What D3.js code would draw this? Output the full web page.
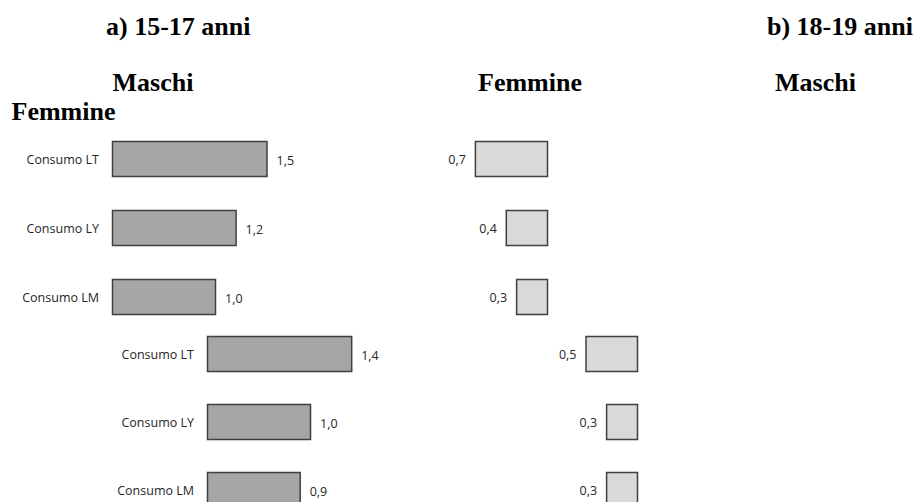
<!DOCTYPE html>
<html>
<head>
<meta charset="utf-8">
<script src="https://cdn.jsdelivr.net/npm/d3@7"></script>
<style>
  html, body { margin: 0; padding: 0; background: #fff; }
  svg { display: block; }
</style>
</head>
<body>
<svg id="chart" width="920" height="502"></svg>
<script>
// ---- data ----
const categories = ["Consumo LT", "Consumo LY", "Consumo LM"];
const maschi1517 = [1.5, 1.2, 1.0];
const femmine1517 = [0.7, 0.4, 0.3];
const maschi1819 = [1.4, 1.0, 0.9];
const femmine1819 = [0.5, 0.3, 0.3];
const panelTitles = ["a) 15-17 anni", "b) 18-19 anni"];
const groupTitles = ["Maschi", "Femmine"];

const svg = d3.select("#chart");
const fmt = v => d3.format(".1f")(v).replace(".", ",");

const titleFont = "'Liberation Serif', 'Times New Roman', serif";
const labelFont = "'Open Sans', 'Noto Sans', sans-serif";
const textCol = "#262626";
const strokeCol = "#3f3f3f";

// titles
function title(txt, x, y, anchor) {
  svg.append("text").attr("x", x).attr("y", y)
    .attr("text-anchor", anchor || "start")
    .style("font-family", titleFont).style("font-size", "26px")
    .style("font-weight", "bold").attr("fill", "#000").text(txt);
}
title(panelTitles[0], 106, 35);
title(groupTitles[0], 112.5, 90.5);
title(groupTitles[1], 11.5, 120);
title(groupTitles[1], 478, 90.5);
title(panelTitles[1], 767, 35);
title(groupTitles[0], 775, 90.5);

const k = 103; // px per unit
const x = d3.scaleLinear().domain([0, 1]).range([0, k]);

function panel(cfg) {
  const y = d3.scaleBand().domain(categories)
    .range([cfg.top, cfg.top + 2 * cfg.step + 35])
    .paddingInner((cfg.step - 35) / cfg.step).paddingOuter(0);
  const g = svg.append("g");

  // category labels
  g.selectAll(".cat").data(categories).join("text")
    .attr("x", cfg.maleX - 13.5)
    .attr("y", d => y(d) + y.bandwidth() / 2)
    .attr("dy", "0.36em")
    .attr("text-anchor", "end")
    .style("font-family", labelFont).style("font-size", "12.5px")
    .attr("fill", textCol).text(d => d);

  // male bars
  g.selectAll(".m").data(cfg.male).join("rect")
    .attr("x", cfg.maleX)
    .attr("y", (d, i) => y(categories[i]))
    .attr("width", d => x(d))
    .attr("height", y.bandwidth())
    .attr("fill", "#a6a6a6").attr("stroke", strokeCol).attr("stroke-width", 1.5);
  g.selectAll(".mv").data(cfg.male).join("text")
    .attr("x", d => cfg.maleX + x(d) + 9.5)
    .attr("y", (d, i) => y(categories[i]) + y.bandwidth() / 2)
    .attr("dy", "0.45em")
    .style("font-family", labelFont).style("font-size", "12.5px")
    .attr("fill", textCol).text(d => fmt(d));

  // female bars (grow leftwards)
  g.selectAll(".f").data(cfg.female).join("rect")
    .attr("x", d => cfg.femaleRight - x(d))
    .attr("y", (d, i) => y(categories[i]))
    .attr("width", d => x(d))
    .attr("height", y.bandwidth())
    .attr("fill", "#d9d9d9").attr("stroke", strokeCol).attr("stroke-width", 1.5);
  g.selectAll(".fv").data(cfg.female).join("text")
    .attr("x", d => cfg.femaleRight - x(d) - 9.5)
    .attr("y", (d, i) => y(categories[i]) + y.bandwidth() / 2)
    .attr("dy", "0.36em")
    .attr("text-anchor", "end")
    .style("font-family", labelFont).style("font-size", "12.5px")
    .attr("fill", textCol).text(d => fmt(d));
}

panel({ top: 141.5, step: 69, maleX: 112.5, femaleRight: 547.5, male: maschi1517, female: femmine1517 });
panel({ top: 336.5, step: 68, maleX: 207.5, femaleRight: 637.5, male: maschi1819, female: femmine1819 });
</script>
</body>
</html>
